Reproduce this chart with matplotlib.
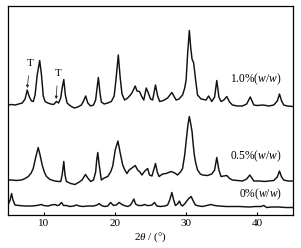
import numpy as np
import matplotlib
matplotlib.use('Agg')
import matplotlib.pyplot as plt

plt.rcParams['font.family'] = 'serif'
plt.rcParams['font.serif'] = ['Liberation Serif', 'DejaVu Serif']
plt.rcParams['mathtext.fontset'] = 'custom'
plt.rcParams['mathtext.rm'] = 'Liberation Serif'
plt.rcParams['mathtext.it'] = 'Liberation Serif:italic'

# 2theta (deg) / intensity (a.u.)
x_10 = [5.0, 5.5, 6.0, 6.5, 7.0, 7.4, 7.7, 8.0, 8.3, 8.55, 8.8, 9.1, 9.45, 9.7, 9.95,
        10.2, 10.6, 11.0, 11.4, 11.8, 12.1, 12.4, 12.6, 12.83, 13.05, 13.3, 13.6, 13.9,
        14.3, 14.8, 15.3, 15.6, 15.9, 16.2, 16.6, 17.0, 17.3, 17.5, 17.68, 17.9, 18.1,
        18.5, 19.0, 19.5, 19.9, 20.15, 20.48, 20.75, 21.0, 21.36, 21.8, 22.3, 22.6,
        22.86, 23.1, 23.46, 23.8, 24.06, 24.4, 24.7, 25.0, 25.3, 25.7, 26.0, 26.3, 26.8,
        27.4, 28.0, 28.6, 29.0, 29.5, 29.8, 30.0, 30.2, 30.45, 30.65, 30.83, 31.06, 31.3,
        31.6, 32.1, 32.8, 33.15, 33.6, 34.0, 34.3, 34.6, 34.9, 35.3, 35.7, 36.1, 36.5,
        37.2, 37.9, 38.5, 39.0, 39.5, 40.0, 40.8, 41.6, 42.3, 42.8, 43.1, 43.4, 43.7,
        44.2, 45.0]
y_10 = [3, 3.5, 3, 4, 5, 9, 18, 11, 7, 6.5, 13, 33, 47.5, 33, 12,
        6.5, 5, 4, 3.5, 6.5, 5, 10, 20, 28.5, 13, 5, 3, 1.5,
        0, 1, 3, 7, 12, 5, 2, 3, 8, 20, 30.5, 16, 6,
        4, 5, 6.5, 12, 28, 53, 30, 14, 8, 10, 14, 18,
        22, 17, 16.5, 11, 8, 20, 15, 9, 8, 23, 12, 6.5, 7.5,
        10, 15.5, 8, 9, 13, 20, 28, 53, 77.5, 60, 49, 45, 30,
        13, 9, 8, 12, 6.5, 11, 27.5, 11, 6.5, 8, 11.5, 6, 3,
        2, 2, 4, 11, 3, 2.5, 3, 2, 3, 7, 14, 7, 3,
        2, 1.5]

x_05 = [5.0, 5.5, 6.2, 6.9, 7.4, 7.85, 8.25, 8.54, 8.9, 9.24, 9.5, 9.8, 10.1, 10.4,
        10.9, 11.57, 12.1, 12.4, 12.6, 12.83, 13.0, 13.2, 13.8, 14.4, 15.0, 15.4, 15.87,
        16.2, 16.6, 17.0, 17.3, 17.45, 17.6, 17.8, 18.1, 18.5, 19.0, 19.4, 19.7, 20.05,
        20.43, 20.75, 21.1, 21.4, 21.7, 22.0, 22.3, 22.86, 23.2, 23.5, 23.8, 24.2, 24.6,
        24.86, 25.2, 25.45, 25.7, 25.95, 26.2, 26.7, 27.2, 27.9, 28.4, 28.8, 29.2, 29.5,
        29.8, 30.0, 30.25, 30.45, 30.65, 30.83, 31.0, 31.15, 31.35, 31.6, 32.0, 32.3,
        33.0, 33.6, 34.0, 34.3, 34.6, 34.9, 35.3, 35.7, 36.1, 36.5, 37.2, 37.9, 38.5,
        38.94, 39.5, 40.3, 41.0, 41.6, 42.3, 42.8, 43.1, 43.4, 43.7, 44.3, 45.0]
y_05 = [5, 5, 4.5, 5, 6.5, 8.5, 12, 16.5, 28, 37.5, 30, 20, 13, 8.5,
        5.5, 4, 3.5, 3.5, 10, 23.5, 10, 3.5, 1.5, 0.5, 3, 5, 10.5,
        7, 3.5, 5, 13, 25, 32.5, 20, 5, 7, 8.5, 13, 19, 35,
        44, 32, 20, 15, 11.5, 15, 16.5, 19.5, 15, 13, 10, 14, 16.5,
        10, 9, 15, 21.5, 13, 8.5, 11, 11.5, 13.5, 12, 10, 13, 16.5,
        30, 43.5, 60, 68.5, 61, 53.5, 40, 30, 22, 15, 11, 10,
        9.5, 11, 15, 27.5, 15, 8.5, 9, 9.5, 6.5, 5, 4.5, 4, 6,
        10, 4, 4, 3.5, 4, 4.5, 8, 14, 8, 5, 4, 4]

x_00 = [5.0, 5.3, 5.5, 5.7, 5.98, 6.5, 7.4, 8.3, 9.0, 9.4, 9.7, 10.0, 10.6, 11.1, 11.6,
        11.9, 12.2, 12.5, 12.8, 13.2, 13.7, 14.2, 14.6, 15.0, 15.5, 16.2, 17.0, 17.5,
        17.8, 18.1, 18.6, 19.0, 19.4, 19.8, 20.2, 20.6, 21.0, 21.3, 21.8, 22.2, 22.45,
        22.66, 22.9, 23.3, 23.8, 24.2, 24.5, 24.86, 25.2, 25.56, 25.9, 26.4, 27.0, 27.4,
        27.7, 28.0, 28.25, 28.5, 28.8, 29.05, 29.3, 29.5, 29.9, 30.3, 30.7, 31.0, 31.3,
        31.8, 32.3, 32.9, 33.5, 34.0, 34.6, 35.6, 36.5, 37.5, 38.8, 39.8, 40.5, 40.9,
        41.3, 42.0, 43.0, 44.0, 44.9]
y_00 = [3, 8, 14.5, 8, 3, 2.5, 2, 2, 2.5, 3, 3.5, 2.5, 2, 3, 3.5,
        2.5, 3, 5.5, 2.5, 2.5, 1.5, 2, 3, 2, 1.5, 2, 2, 3,
        4.5, 2.5, 1.5, 2, 5.5, 2.5, 3, 5.5, 3.5, 2.5, 1.5, 3, 6,
        9, 4, 2.5, 2.5, 3.5, 2.5, 2.5, 3, 5.5, 2, 1.5, 2, 3,
        8, 15.5, 8, 2.5, 4, 7, 3, 2, 5, 9, 11.5, 7, 3,
        2, 1.5, 2.5, 3.5, 2.5, 2, 1.5, 1.5, 1.5, 1, 1.5, 1.5, 2.5,
        0.5, 1, 1, 0.5, 0.5]

series = [(x_10, y_10, 107, '1.0%($w/w$)', 136),
          (x_05, y_05, 30, '0.5%($w/w$)', 58.3),
          (x_00, y_00, 7, '0%($w/w$)', 20.7)]

fig = plt.figure(figsize=(3.01, 2.48), dpi=100)
ax = fig.add_axes([8/301, 33/248, 285/301, 209/248])

for xs, ys, off, lab, ylab in series:
    ax.plot(xs, np.array(ys) + off, color='#111111', lw=1.05)
    ax.text(43.45, ylab, lab, ha='right', va='center', fontsize=8.3)

# T markers
arr = dict(arrowstyle='-|>', lw=0.5, color='#1a1a1a', mutation_scale=4,
           shrinkA=4, shrinkB=0)
ax.annotate('T', xy=(7.7, 127), xytext=(8.08, 152), ha='center', va='center',
            fontsize=8, arrowprops=arr)
ax.annotate('T', xy=(11.75, 116), xytext=(12.0, 142), ha='center', va='center',
            fontsize=8, arrowprops=arr)

ax.set_xlim(5, 45)
ax.set_ylim(0, 209)
ax.set_xticks([10, 20, 30, 40])
ax.set_yticks([])
ax.tick_params(axis='x', direction='in', length=2.5, width=0.8, pad=3, labelsize=8)
for s in ax.spines.values():
    s.set_linewidth(0.9)
ax.set_xlabel(r'$2\theta$ / (°)', fontsize=8, labelpad=2)

fig.savefig('out.png', dpi=100)
